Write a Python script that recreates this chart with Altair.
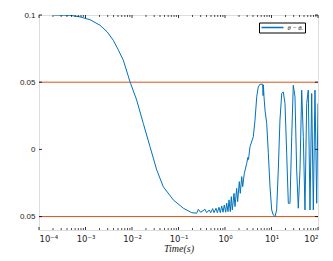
import altair as alt
import pandas as pd

# time samples (s) and error values
t = [2.1e-4, 4.65e-4, 7.6e-4, 1.25e-3, 2.05e-3, 2.9e-3, 3.96e-3, 5.0e-3, 6.5e-3, 9.06e-3,
     0.0126, 0.0175, 0.0244, 0.034, 0.0471, 0.0773, 0.127, 0.192, 0.246,
     0.267, 0.300, 0.371, 0.404, 0.459, 0.492, 0.543, 0.580, 0.640, 0.684, 0.743, 0.793,
     0.849, 0.906, 0.966, 1.035, 1.087, 1.161, 1.219, 1.30, 1.367, 1.437, 1.562, 1.64,
     1.78, 1.87, 2.03, 2.13, 2.29, 2.40, 2.6, 2.93, 3.1, 3.2, 3.45, 4.06, 4.42, 4.81,
     5.20, 5.66, 6.47, 6.6, 6.7, 6.90, 7.25, 7.89, 8.54, 9.29, 10.1, 10.9, 11.9, 12.9,
     14.0, 15.2, 16.6, 17.9, 19.5, 21.2, 23.0, 25.0, 27.2, 29.4, 32.0, 34.8, 37.7, 41.0,
     44.6, 48.3, 52.5, 57.1, 61.8, 67.3, 73.2, 79.3, 86.1, 93.7, 100]
err = [0.1, 0.0998, 0.0986, 0.0965, 0.0924, 0.0876, 0.0812, 0.0745, 0.0664, 0.0503,
       0.0367, 0.0193, 0.002, -0.0153, -0.0278, -0.0376, -0.0438, -0.0471, -0.0475,
       -0.0446, -0.0468, -0.0446, -0.0471, -0.0451, -0.0471, -0.0441, -0.0471, -0.0438, -0.0471, -0.0431, -0.0471,
       -0.0421, -0.0468, -0.0414, -0.0468, -0.0401, -0.0463, -0.0376, -0.0463, -0.0352, -0.0451, -0.0327, -0.0426,
       -0.0290, -0.0389, -0.0240, -0.0327, -0.0203, -0.0278, -0.018, -0.0104, -0.006, -0.0075, 0.002, 0.0094, 0.0218, 0.0391,
       0.0465, 0.0485, 0.0485, 0.040, 0.048, 0.0391, 0.0292, 0.0193, -0.0029, -0.0278, -0.0451, -0.0488, -0.0501, -0.0451,
       -0.0154, 0.0218, 0.0416, 0.0428, 0.0342, -0.0029, -0.0401, -0.0401, 0.0094, 0.0478, 0.0391, -0.0154, -0.0438, -0.0154,
       0.0441, 0.0094, -0.0451, 0.0342, 0.0441, -0.0451, 0.0416, -0.0451, 0.0441, -0.0401, 0.0342]
series_name = "θ − θᵣ"
bounds = [0.05, -0.05]
x_ticks = [1e-4, 1e-3, 1e-2, 1e-1, 1e0, 1e1, 1e2]
x_tick_labels = ["10⁻⁴", "10⁻³", "10⁻²", "10⁻¹", "10⁰", "10¹", "10²"]
y_ticks = [0.1, 0.05, 0, -0.05]
minor_ticks = [k * 10.0 ** d for d in range(-4, 2) for k in range(2, 10)]

W, H = 279, 215

df = pd.DataFrame({"t": t, "e": err, "s": series_name})
bdf = pd.DataFrame({"b": bounds})
mdf = pd.DataFrame({"m": minor_ticks})
Mdf = pd.DataFrame({"m": x_ticks})
ydf = pd.DataFrame({"y": y_ticks})

label_expr = "[" + ",".join("'%s'" % s for s in x_tick_labels) + "][round(log(datum.value)/LN10)+4]"

xscale = alt.Scale(type="log", domain=[1e-4, 100], nice=False)
yscale = alt.Scale(domain=[-0.06, 0.1], nice=False, zero=False)

line = alt.Chart(df).mark_line(strokeWidth=1, clip=True).encode(
    x=alt.X("t:Q", scale=xscale,
            axis=alt.Axis(values=x_ticks, labelExpr=label_expr, ticks=False, tickSize=0,
                          domain=False, grid=False, labelFont="DejaVu Sans",
                          labelFontSize=8.5, labelPadding=4, labelColor="#222",
                          title="Time(s)", titleFont="Liberation Serif",
                          titleFontStyle="italic", titleFontWeight="normal",
                          titleFontSize=10, titlePadding=1, titleColor="#222")),
    y=alt.Y("e:Q", scale=yscale,
            axis=alt.Axis(values=y_ticks, labelExpr="format(abs(datum.value), '~g')",
                          ticks=False, tickSize=0, domain=False, grid=False,
                          labelFont="Liberation Sans", labelFontSize=8, labelPadding=4,
                          labelColor="#222", title=None)),
    color=alt.Color("s:N", scale=alt.Scale(range=["#0072BD"]),
                    legend=alt.Legend(title=None, orient="none", legendX=220, legendY=7.5,
                                      strokeColor="black", fillColor="white", padding=1.5,
                                      symbolType="stroke", symbolSize=480, clipHeight=7,
                                      symbolStrokeWidth=1.5, labelFont="Liberation Serif",
                                      labelFontStyle="italic", labelFontSize=6.5,
                                      labelOffset=3, cornerRadius=0)),
)

ref = alt.Chart(bdf).mark_rule(color="#D95319", strokeWidth=1).encode(y="b:Q")

minor_bot = alt.Chart(mdf).mark_rule(color="black", strokeWidth=0.7).encode(
    x="m:Q", y=alt.value(H), y2=alt.value(H - 2))
minor_top = alt.Chart(mdf).mark_rule(color="black", strokeWidth=0.7).encode(
    x="m:Q", y=alt.value(0), y2=alt.value(2))
major_bot = alt.Chart(Mdf).mark_rule(color="black", strokeWidth=0.8).encode(
    x="m:Q", y=alt.value(H), y2=alt.value(H - 3))
major_top = alt.Chart(Mdf).mark_rule(color="black", strokeWidth=0.8).encode(
    x="m:Q", y=alt.value(0), y2=alt.value(3))
yl = alt.Chart(ydf).mark_rule(color="black", strokeWidth=0.8).encode(
    y="y:Q", x=alt.value(0), x2=alt.value(3))
yr = alt.Chart(ydf).mark_rule(color="black", strokeWidth=0.8).encode(
    y="y:Q", x=alt.value(W), x2=alt.value(W - 3))

chart = alt.layer(ref, line, minor_bot, minor_top, major_bot, major_top, yl, yr).properties(
    width=W, height=H,
    autosize=alt.AutoSizeParams(type="none"),
    padding={"left": 31, "top": 7, "right": 7, "bottom": 30},
).configure_view(stroke="black", strokeWidth=1).configure(background="white")

chart.save("out.html", embed_options={"renderer": "svg", "actions": False})
